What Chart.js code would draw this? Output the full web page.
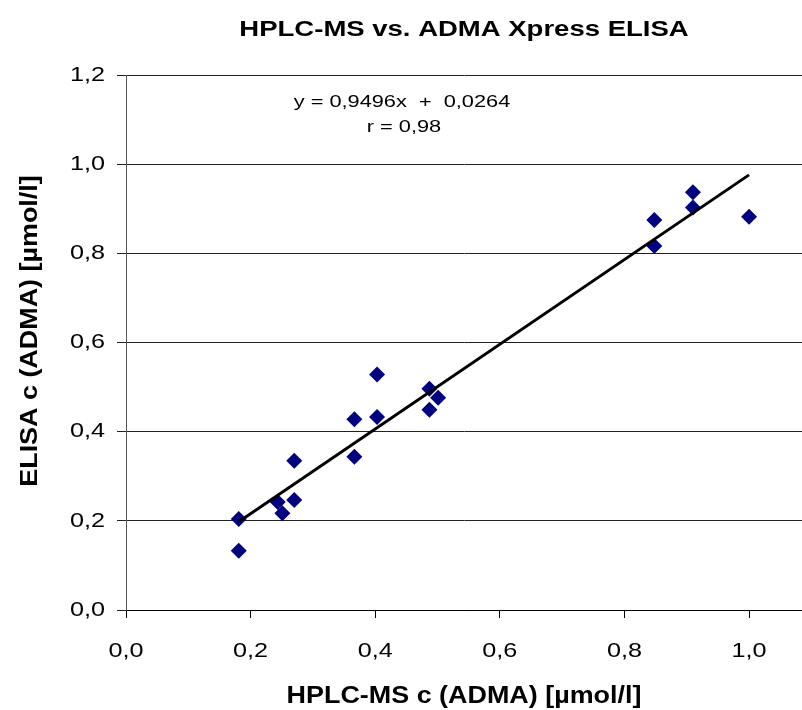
<!DOCTYPE html>
<html>
<head>
<meta charset="utf-8">
<script src="https://cdn.jsdelivr.net/npm/chart.js@4/dist/chart.umd.min.js"></script>
<style>
  html, body { margin: 0; padding: 0; background: #fff; }
  #wrap { width: 802px; height: 710px; position: relative; }
</style>
</head>
<body>
<div id="wrap"><canvas id="c" width="802" height="710"></canvas></div>
<script>
// Data
const hplcValues  = [0.181, 0.181, 0.2435, 0.251, 0.270, 0.270, 0.3665, 0.3665, 0.403, 0.403, 0.487, 0.487, 0.501, 0.848, 0.848, 0.910, 0.910, 1.000];
const elisaValues = [0.204, 0.133, 0.242, 0.217, 0.247, 0.335, 0.428, 0.344, 0.528, 0.433, 0.496, 0.449, 0.476, 0.875, 0.8165, 0.937, 0.903, 0.882];
const trendX = [0.181, 1.000];
const trendY = [0.198, 0.976];
const yTicks = [0, 0.2, 0.4, 0.6, 0.8, 1.0, 1.2];
const xTicks = [0, 0.2, 0.4, 0.6, 0.8, 1.0];
const titleText = 'HPLC-MS vs. ADMA Xpress ELISA';
const xTitle = 'HPLC-MS c (ADMA) [µmol/l]';
const yTitle = 'ELISA c (ADMA) [µmol/l]';
const equationLines = ['y = 0,9496x  +  0,0264', 'r = 0,98'];

const points = hplcValues.map((x, i) => ({ x: x, y: elisaValues[i] }));
const trend = trendX.map((x, i) => ({ x: x, y: trendY[i] }));

const fmt = v => Number(v).toFixed(1).replace('.', ',');
const FONT = '"Liberation Sans", Arial, sans-serif';

// The reference text is rendered wider than normal Arial;
// stretch glyphs horizontally per font (style only).
const STRETCH = { b22: 1.25, b23: 1.17, n21: 1.2, n17: 1.28 };
const canvas = document.getElementById('c');
const ctx2d = canvas.getContext('2d');
const origFill = ctx2d.fillText;
const origMeasure = ctx2d.measureText;
function stretchOf(c) {
  const f = c.font;
  const m = /(\d+(?:\.\d+)?)px/.exec(f);
  const size = m ? Math.round(parseFloat(m[1])) : 0;
  const key = (/bold|700/.test(f) ? 'b' : 'n') + size;
  return STRETCH[key] || 1;
}
ctx2d.fillText = function (t, x, y, mw) {
  const s = stretchOf(this);
  if (s === 1) return origFill.call(this, t, x, y, mw);
  this.save();
  this.translate(x, y);
  this.scale(s, 1);
  origFill.call(this, t, 0, 0);
  this.restore();
};
ctx2d.measureText = function (t) {
  const m = origMeasure.call(this, t);
  const s = stretchOf(this);
  if (s === 1) return m;
  return {
    width: m.width * s,
    actualBoundingBoxLeft: m.actualBoundingBoxLeft * s,
    actualBoundingBoxRight: m.actualBoundingBoxRight * s,
    actualBoundingBoxAscent: m.actualBoundingBoxAscent,
    actualBoundingBoxDescent: m.actualBoundingBoxDescent,
    fontBoundingBoxAscent: m.fontBoundingBoxAscent,
    fontBoundingBoxDescent: m.fontBoundingBoxDescent
  };
};

const textPlugin = {
  id: 'extraText',
  afterDatasetsDraw(chart) {
    const ctx = chart.ctx;
    ctx.save();
    ctx.fillStyle = '#000';
    ctx.font = '17px ' + FONT;
    ctx.textAlign = 'center';
    ctx.textBaseline = 'middle';
    ctx.fillText(equationLines[0], 402, 102);
    ctx.fillText(equationLines[1], 404, 127);
    ctx.restore();

    ctx.save();
    ctx.fillStyle = '#000';
    ctx.font = 'bold 23px ' + FONT;
    ctx.textAlign = 'center';
    ctx.textBaseline = 'middle';
    ctx.translate(31, 331);
    ctx.rotate(-Math.PI / 2);
    ctx.fillText(yTitle, 0, 0);
    ctx.restore();
  }
};

new Chart(canvas, {
  type: 'scatter',
  data: {
    datasets: [
      {
        label: 'Trend',
        type: 'line',
        data: trend,
        borderColor: '#000',
        borderWidth: 3,
        pointRadius: 0,
        fill: false,
        order: 1
      },
      {
        label: 'ADMA',
        data: points,
        pointStyle: 'rectRot',
        pointRadius: 8,
        pointHoverRadius: 8,
        backgroundColor: '#000080',
        borderColor: '#000080',
        borderWidth: 0,
        order: 2
      }
    ]
  },
  options: {
    responsive: false,
    animation: false,
    devicePixelRatio: 1,
    layout: { autoPadding: false, padding: { left: 0, right: 0, top: 0, bottom: 0 } },
    plugins: {
      legend: { display: false },
      tooltip: { enabled: false },
      title: {
        display: true,
        text: titleText,
        fullSize: false,
        color: '#000',
        font: { family: FONT, size: 22, weight: 'bold' },
        padding: { top: 17, bottom: 31.6 }
      }
    },
    scales: {
      x: {
        type: 'linear',
        min: 0,
        max: 1.085,
        afterBuildTicks(scale) { scale.ticks = xTicks.map(v => ({ value: v })); },
        afterFit(scale) { scale.height = 100; scale.paddingRight = 0; scale.paddingLeft = 0; },
        ticks: {
          color: '#000',
          font: { family: FONT, size: 21 },
          padding: 21,
          callback: v => fmt(v),
          maxRotation: 0,
          autoSkip: false
        },
        grid: {
          drawOnChartArea: false,
          drawTicks: true,
          tickLength: 8,
          color: '#000'
        },
        border: { color: '#000', width: 1 },
        title: {
          display: true,
          text: xTitle,
          color: '#000',
          font: { family: FONT, size: 23, weight: 'bold' },
          padding: { top: 4, bottom: 0 }
        }
      },
      y: {
        type: 'linear',
        min: 0,
        max: 1.2,
        afterBuildTicks(scale) { scale.ticks = yTicks.map(v => ({ value: v })); },
        afterFit(scale) { scale.width = 126; },
        ticks: {
          color: '#000',
          font: { family: FONT, size: 21 },
          padding: 12,
          callback: v => fmt(v)
        },
        grid: {
          drawOnChartArea: true,
          drawTicks: true,
          tickLength: 9,
          color: '#222'
        },
        border: { color: '#555', width: 1 },
        title: { display: false }
      }
    }
  },
  plugins: [textPlugin]
});
</script>
</body>
</html>
